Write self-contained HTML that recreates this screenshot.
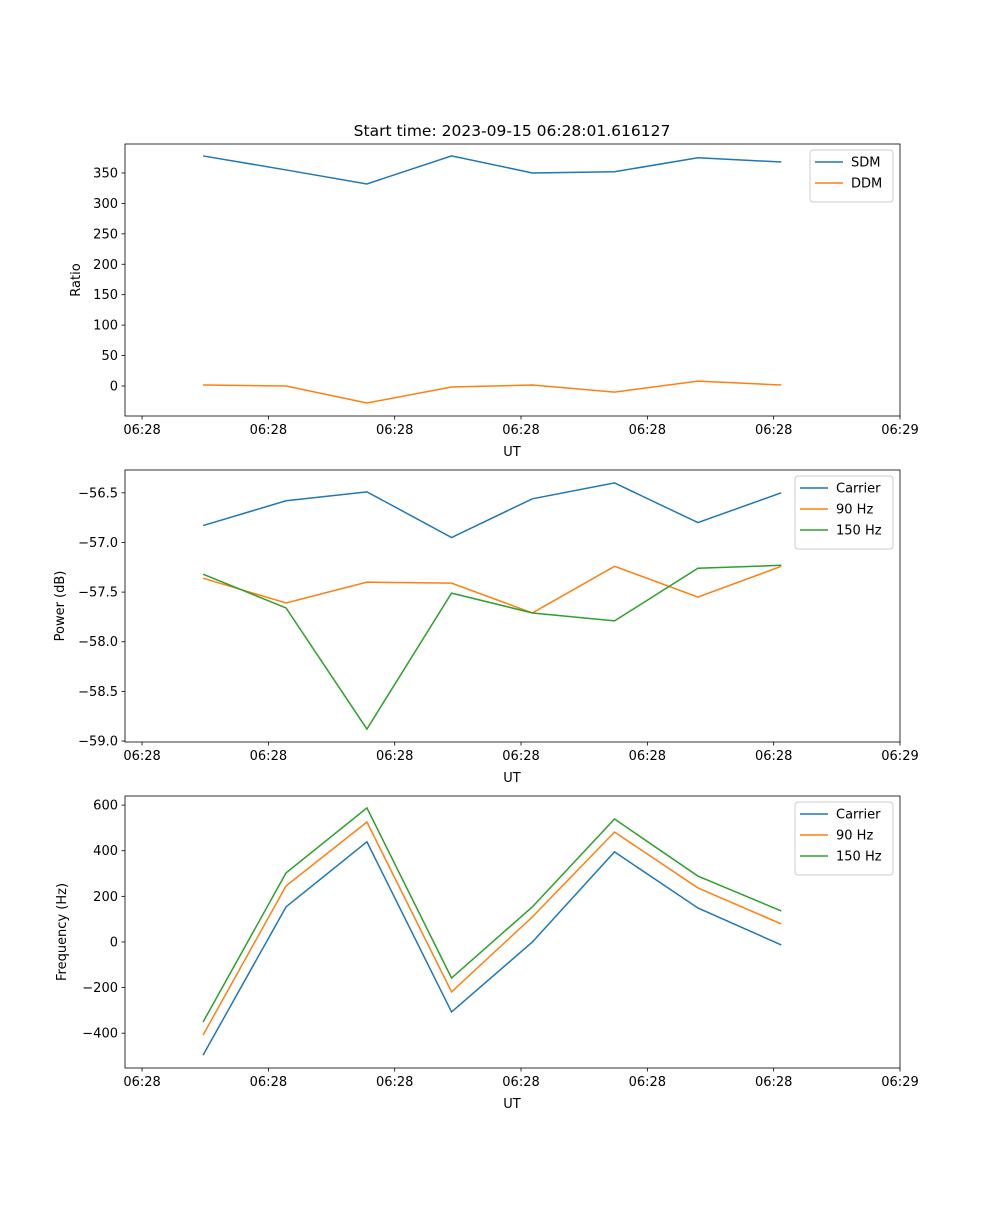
<!DOCTYPE html>
<html><head><meta charset="utf-8"><style>
body{margin:0;background:#fff;font-family:"Liberation Sans","DejaVu Sans",sans-serif;}
svg text{font-family:"DejaVu Sans","Liberation Sans",sans-serif;font-size:13px;fill:#000;}
</style></head><body>
<svg id="fig" width="1000" height="1200" xmlns="http://www.w3.org/2000/svg">
<text x="512" y="136" text-anchor="middle" font-size="15.5" style="font-size:15.5px">Start time: 2023-09-15 06:28:01.616127</text>
</svg>
<script>
const xSec=[4.83,11.4,17.8,24.5,30.9,37.4,44.0,50.6];
const xTickLabels=["06:28","06:28","06:28","06:28","06:28","06:28","06:29"];
const xTickVals=[0,10,20,30,40,50,60];
const sdm=[378,355,332,378,350,352,375,368];
const ddm=[1.6,0,-28,-1.6,1.6,-10,8,1.6];
const pwrCarrier=[-56.83,-56.58,-56.49,-56.95,-56.56,-56.40,-56.80,-56.50];
const pwr90=[-57.36,-57.61,-57.40,-57.41,-57.71,-57.24,-57.55,-57.24];
const pwr150=[-57.32,-57.66,-58.88,-57.51,-57.71,-57.79,-57.26,-57.23];
const frqCarrier=[-496,154,439,-307,0,395,149,-13];
const frq90=[-408,246,526,-219,110,482,237,79];
const frq150=[-351,303,588,-158,154,539,289,136];
const yTicks1=[0,50,100,150,200,250,300,350];
const yTicks2=[-59.0,-58.5,-58.0,-57.5,-57.0,-56.5];
const yTicks3=[-400,-200,0,200,400,600];
const colors=["#1f77b4","#ff7f0e","#2ca02c"];
const NS="http://www.w3.org/2000/svg";
const svg=document.getElementById('fig');
function mk(t,a,p){const e=document.createElementNS(NS,t);for(const k in a)e.setAttribute(k,a[k]);(p||svg).appendChild(e);return e;}
const X0=125,X1=900,xmin=-1.35,xmax=60;
const xs=v=>X0+(v-xmin)/(xmax-xmin)*(X1-X0);
function panel(name,top,bot,ymin,ymax,ticks,fmt,ylabel,series,labels,legend){
  const g=mk('g',{});
  
  
  const ys=v=>bot-(v-ymin)/(ymax-ymin)*(bot-top);
  series.forEach((s,i)=>{
    const pl=mk('polyline',{points:s.map((v,j)=>xs(xSec[j])+','+ys(v)).join(' '),fill:'none',stroke:colors[i],'stroke-width':1.5},g);
    
    
  });
  mk('rect',{x:X0,y:top,width:X1-X0,height:bot-top,fill:'none',stroke:'#000','stroke-width':0.8},g);
  xTickVals.forEach((v,i)=>{
    const x=xs(v);
    mk('line',{x1:x,x2:x,y1:bot,y2:bot+3.5,stroke:'#000','stroke-width':0.8},g);
    const t=mk('text',{x:x,y:bot+18,'text-anchor':'middle'},g);t.textContent=xTickLabels[i];
    
    
  });
  ticks.forEach(v=>{
    const y=ys(v);
    mk('line',{x1:X0-3.5,x2:X0,y1:y,y2:y,stroke:'#000','stroke-width':0.8},g);
    const t=mk('text',{x:X0-7,y:y+4.5,'text-anchor':'end'},g);t.textContent=fmt(v);
    
    
  });
  const xl=mk('text',{x:512,y:bot+40,'text-anchor':'middle'},g);xl.textContent='UT';
  
  
  const yl=mk('text',{x:0,y:0,'text-anchor':'middle',transform:`translate(${legend.ylx},${(top+bot)/2}) rotate(-90)`},g);yl.textContent=ylabel;
  
  
  const lg=mk('g',{},g);
  
  
  mk('rect',{x:legend.x,y:top+6,width:893-legend.x,height:10+21*labels.length,fill:'#fff',stroke:'#ccc',rx:3},lg);
  labels.forEach((l,i)=>{
    const y=top+18+21*i;
    mk('line',{x1:legend.x+5,x2:legend.x+33,y1:y,y2:y,stroke:colors[i],'stroke-width':1.5},lg);
    const t=mk('text',{x:legend.x+41,y:y+4.5},lg);t.textContent=l;
    
    
  });
}
panel('ratio',144,416,-49.3,397.6,yTicks1,v=>String(v),'Ratio',[sdm,ddm],['SDM','DDM'],{x:810,ylx:80});
panel('power',470,742,-59.01,-56.27,yTicks2,v=>v.toFixed(1).replace('-','−'),'Power (dB)',[pwrCarrier,pwr90,pwr150],['Carrier','90 Hz','150 Hz'],{x:795,ylx:64});
panel('frequency',796,1068,-552.6,640,yTicks3,v=>String(v).replace('-','−'),'Frequency (Hz)',[frqCarrier,frq90,frq150],['Carrier','90 Hz','150 Hz'],{x:795,ylx:66});
</script>
</body></html>
